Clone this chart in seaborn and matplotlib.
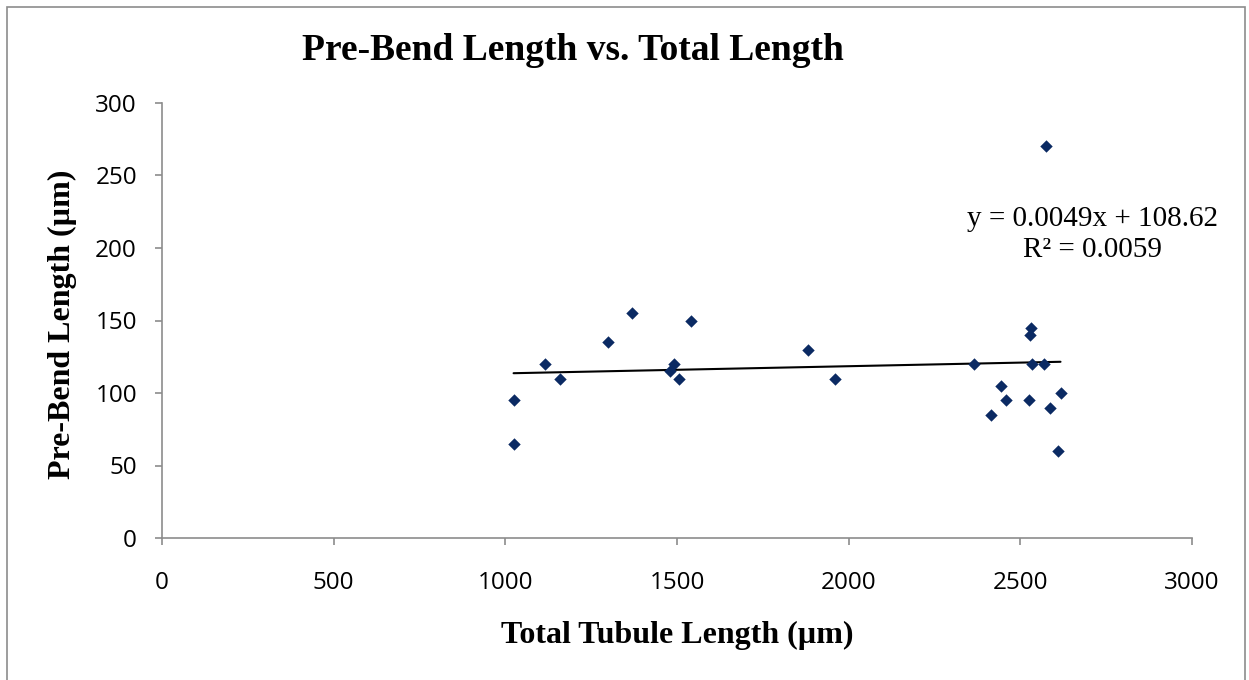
import numpy as np
import pandas as pd
import seaborn as sns
import matplotlib.pyplot as plt
from matplotlib.patches import Rectangle

# ----- Data ----- #
total_length = [1024, 1024, 1115, 1159, 1299, 1370, 1479, 1490, 1505, 1540,
                1881, 1959, 2364, 2414, 2445, 2457, 2525, 2527, 2530, 2535,
                2569, 2574, 2586, 2611, 2617]
pre_bend = [95, 65, 120, 110, 135, 155, 115, 120, 110, 150,
            130, 110, 120, 85, 105, 95, 95, 140, 145, 120,
            120, 270, 90, 60, 100]
x_ticks = [0, 500, 1000, 1500, 2000, 2500, 3000]
y_ticks = [0, 50, 100, 150, 200, 250, 300]
fit_text = "y = 0.0049x + 108.62\nR² = 0.0059"

df = pd.DataFrame({"Total": total_length, "PreBend": pre_bend})

sns.set_style("white")
plt.rcParams["font.family"] = ["Open Sans", "DejaVu Sans"]
plt.rcParams["text.color"] = "black"
plt.rcParams["axes.labelcolor"] = "black"

fig = plt.figure(figsize=(12.49, 6.80), dpi=100)
ax = fig.add_axes([162 / 1249, 1 - 538 / 680, (1192 - 162) / 1249, (538 - 103) / 680])

# outer chart border (bottom edge runs off the image)
fig.patches.append(Rectangle((7 / 1249, -2 / 680), 1238 / 1249, 675 / 680,
                             transform=fig.transFigure, fill=False,
                             edgecolor="#8c8c8c", linewidth=1.2))

sns.scatterplot(data=df, x="Total", y="PreBend", marker="D", s=40,
                color="#0b2a63", linewidth=0, ax=ax, zorder=3)
sns.regplot(data=df, x="Total", y="PreBend", ci=None, scatter=False,
            line_kws={"color": "black", "linewidth": 1.5}, ax=ax)

ax.set_xlim(0, 3000)
ax.set_ylim(0, 300)
ax.set_xticks(x_ticks)
ax.set_yticks(y_ticks)
ax.tick_params(axis="both", bottom=True, left=True, labelsize=17.5,
               labelcolor="black", direction="out", length=5, width=1.2,
               color="#8c8c8c")
ax.tick_params(axis="x", pad=19)
ax.tick_params(axis="y", pad=13)
for side in ["top", "right"]:
    ax.spines[side].set_visible(False)
for side in ["left", "bottom"]:
    ax.spines[side].set_color("#8c8c8c")
    ax.spines[side].set_linewidth(1.2)

serif = ["Liberation Serif", "DejaVu Serif"]
ax.set_xlabel("Total Tubule Length (µm)", fontsize=23, fontweight="bold",
              family=serif)
ax.set_ylabel("Pre-Bend Length (µm)", fontsize=23, fontweight="bold",
              family=serif)
ax.xaxis.set_label_coords(0.5, (538 - 635) / 435)
ax.xaxis.label.set_va("center")
ax.yaxis.set_label_coords((62 - 162) / 1030, (538 - 324) / 435)
ax.yaxis.label.set_va("center")
fig.text(573 / 1249, 1 - 51 / 680, "Pre-Bend Length vs. Total Length",
         ha="center", va="center", fontsize=27, fontweight="bold", family=serif)
ax.text(2710, 209, fit_text, ha="center", va="center", fontsize=21,
        family=serif, linespacing=1.25)

fig.savefig("out.png", dpi=100)
